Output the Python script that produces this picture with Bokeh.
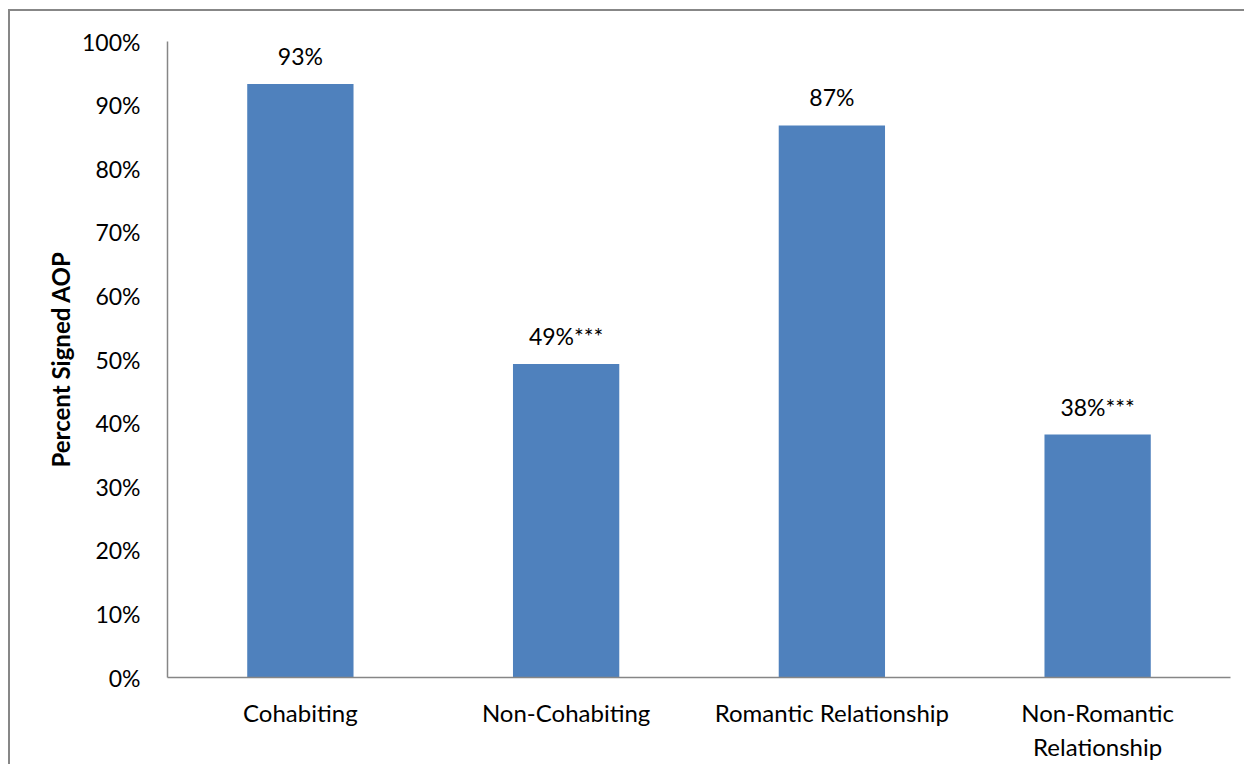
from bokeh.plotting import figure
from bokeh.models import ColumnDataSource, NumeralTickFormatter, FixedTicker, Range1d, InlineStyleSheet
from bokeh.embed import file_html
from bokeh.resources import INLINE
from bokeh.core.properties import value

categories = ["Cohabiting", "Non-Cohabiting", "Romantic Relationship", "Non-Romantic\nRelationship"]
values = [0.933, 0.493, 0.868, 0.382]
labels = ["93%", "49%***", "87%", "38%***"]
y_ticks = [0, 0.1, 0.2, 0.3, 0.4, 0.5, 0.6, 0.7, 0.8, 0.9, 1.0]

FONT = "Lato"
src = ColumnDataSource(dict(cat=categories, val=values, lab=labels))

p = figure(x_range=categories, y_range=Range1d(0, 1), width=1244, height=764,
           output_backend="svg", toolbar_location=None,
           min_border_left=167, min_border_right=14, min_border_top=41, min_border_bottom=84)
p.vbar(x="cat", top="val", width=0.4, source=src, color="#4F81BD", line_color=None)
p.text(x="cat", y="val", text="lab", source=src, text_align="center", text_baseline="bottom",
       y_offset=-14, text_font=value(FONT), text_font_size="23px", text_color="#000000")

p.xgrid.grid_line_color = None
p.ygrid.grid_line_color = None
p.outline_line_color = None

p.yaxis.ticker = FixedTicker(ticks=y_ticks)
p.yaxis.formatter = NumeralTickFormatter(format="0%")
for ax in (p.xaxis[0], p.yaxis[0]):
    ax.axis_line_color = "#868686"
    ax.axis_line_width = 1.5
    ax.major_tick_line_color = None
    ax.minor_tick_line_color = None
    ax.major_label_text_font = FONT
    ax.major_label_text_font_size = "23px"
    ax.major_label_text_color = "#000000"
p.xaxis.major_label_text_font_size = "24px"
p.yaxis.major_label_standoff = 21
p.xaxis.major_label_standoff = 14
p.yaxis.axis_label = "Percent Signed AOP"
p.yaxis.axis_label_text_font = FONT
p.yaxis.axis_label_text_font_style = "bold"
p.yaxis.axis_label_text_font_size = "24px"
p.yaxis.axis_label_text_color = "#000000"
p.yaxis.axis_label_standoff = 4

p.stylesheets = [InlineStyleSheet(css="""
:host { position: relative; }
:host::after {
  content: ''; position: absolute; left: 8px; top: 9px; right: 0; bottom: 0;
  border-left: 2px solid #878787; border-top: 2px solid #878787;
  pointer-events: none; z-index: 100;
}
""")]

open("out.html", "w").write(file_html(p, INLINE))
